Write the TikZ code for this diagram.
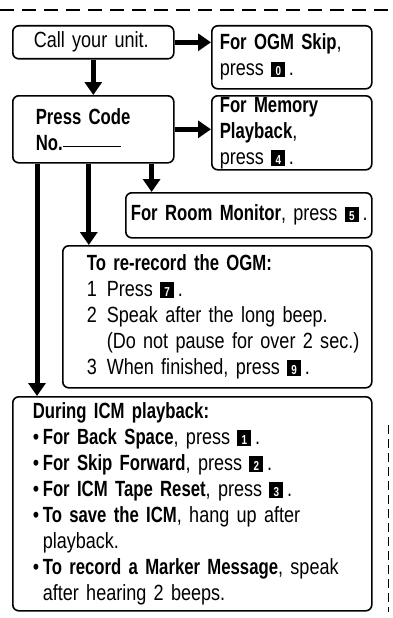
\documentclass[tikz,border=0pt]{standalone}
\usepackage{fontspec}
\setmainfont{Liberation Sans}[FakeStretch=0.82,BoldFeatures={FakeStretch=0.76}]
\usetikzlibrary{arrows.meta}

% black key with a white digit
\newcommand{\keycap}[1]{\rlap{\rule[-1.5pt]{14pt}{15.5pt}}\makebox[14pt]{\color{white}\fontsize{13}{13}\selectfont\bfseries #1}}

\begin{document}
\begin{tikzpicture}[
    x=1pt, y=-1pt,
    every node/.style={font=\fontsize{22}{26}\selectfont},
    box/.style={rectangle, draw, line width=1.6pt, rounded corners=6pt, anchor=north west, align=left, inner xsep=4pt, inner ysep=0pt},
    flow/.style={line width=5pt, -{Triangle[width=17pt,length=13pt]}},
    cut/.style={line width=1.6pt, dash pattern=on 14pt off 8pt},
    edge/.style={line width=0.8pt, dash pattern=on 9pt off 5pt}
]
\useasboundingbox (0,0) rectangle (393,618);

% -------------------------
% Cut lines
% -------------------------
    \draw[cut] (0,10) -- (393,10);
    \draw[edge] (388,425) -- (388,612);

% -------------------------
% Top row
% -------------------------
    \node[box, text width=153pt, minimum height=33pt] (call) at (12,25) {\leftskip=17pt Call your unit.\par};
    \node[box, text width=152pt, minimum height=63pt] (ogm) at (211,25) {\leftskip=4pt \textbf{For OGM Skip},\\press \keycap{0}\,.\par};

% -------------------------
% Code row
% -------------------------
    \node[box, text width=153pt, minimum height=67pt] (code) at (12,95) {\leftskip=19pt \textbf{Press Code}\\\textbf{No.}\rule[3pt]{58pt}{1.6pt}\par};
    \node[box, text width=152pt, minimum height=74pt] (mem) at (211,95) {\leftskip=4pt \textbf{For Memory}\\\textbf{Playback},\\press \keycap{4}\,.\par};

% -------------------------
% Lower boxes
% -------------------------
    \node[box, text width=238pt, minimum height=45pt] (room) at (125,192) {\leftskip=1pt \textbf{For Room Monitor}, press \keycap{5}\,.\par};

    \node[box, text width=301pt, minimum height=142pt] (rec) at (62,245) {\leftskip=20pt \textbf{To re-record the OGM:}\\
        \makebox[20pt][l]{1}Press \keycap{7}\,.\\
        \makebox[20pt][l]{2}Speak after the long beep.\\
        \hspace*{20pt}(Do not pause for over 2 sec.)\\
        \makebox[20pt][l]{3}When finished, press \keycap{9}\,.\par};

    \node[box, text width=351pt, minimum height=214pt] (icm) at (12,396) {\leftskip=16pt \textbf{During ICM playback:}\\
        \makebox[10pt][l]{\textbullet}\textbf{For Back Space}, press \keycap{1}\,.\\
        \makebox[10pt][l]{\textbullet}\textbf{For Skip Forward}, press \keycap{2}\,.\\
        \makebox[10pt][l]{\textbullet}\textbf{For ICM Tape Reset}, press \keycap{3}\,.\\
        \makebox[10pt][l]{\textbullet}\textbf{To save the ICM}, hang up after\\
        \hspace*{10pt}playback.\\
        \makebox[10pt][l]{\textbullet}\textbf{To record a Marker Message}, speak\\
        \hspace*{10pt}after hearing 2 beeps.\par};

% -------------------------
% Arrows
% -------------------------
    \draw[flow] (call.east) -- (call.east -| ogm.west);
    \draw[flow] (call.south) -- (code.north);
    \draw[flow] (code.east) -- (code.east -| mem.west);
    \draw[flow] ([xshift=-23pt]code.south east) -- ([xshift=-23pt]code.south east |- room.north);
    \draw[flow] ([xshift=-4.5pt]code.south) -- ([xshift=-4.5pt]code.south |- rec.north);
    \draw[flow] ([xshift=25pt]code.south west) -- ([xshift=25pt]code.south west |- icm.north);
\end{tikzpicture}
\end{document}
